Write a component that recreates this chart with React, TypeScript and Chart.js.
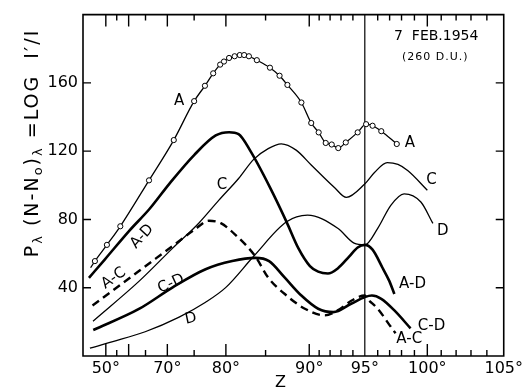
import React, { useEffect, useRef } from "react";
import { Chart, registerables } from "chart.js";

Chart.register(...registerables);

// Non-linear zenith-angle axis: Z (degrees) -> axis coordinate u
const AXIS_Z = [40, 45, 50, 55, 60, 65, 70, 75, 80, 85, 90, 91, 92, 93, 94, 95, 96, 97, 98, 99, 100, 101, 102, 103, 104, 105];
const AXIS_U = [0, 12, 23, 34, 46, 63, 85, 112, 144, 184, 228, 238, 249, 260, 272, 284, 297, 309, 321, 334, 347, 361, 376, 391, 407, 424];

const X_LABEL_Z = [50, 70, 80, 90, 95, 100, 105];
const X_MAJOR_Z = [50, 60, 70, 80, 90, 100];
const X_MINOR_Z = [55, 65, 75, 85, 91, 92, 93, 94, 96, 97, 98, 99, 101, 102, 103, 104];
const Y_TICKS = [40, 80, 120, 160];

// Curve A (with observed points)
const A_Z = [43.2, 45.0, 50.5, 56.5, 65.8, 71.2, 75.0, 76.7, 78.0, 79.1, 79.7, 80.4, 81.1, 81.75, 82.3, 82.9, 83.9, 85.5, 86.6, 87.5, 89.1, 90.2, 90.95, 91.6, 92.15, 92.75, 93.4, 94.4, 95.1, 95.6, 96.3, 97.6];
const A_VAL = [51.7, 55.6, 65.1, 76.0, 102.9, 126.5, 149.3, 158.3, 165.6, 170.7, 172.5, 174.6, 175.6, 176.3, 176.3, 175.6, 173.3, 168.9, 164.2, 158.8, 148.5, 136.5, 131.0, 124.8, 123.9, 121.8, 125.1, 131.0, 135.8, 134.9, 131.7, 124.2];

const AD_Z = [42.5, 49.5, 60.3, 65.9, 70.4, 75.0, 78.4, 80.4, 81.6, 83.1, 85.5, 87.4, 88.75, 90.07, 90.9, 91.8, 92.7, 93.7, 94.4, 95.0, 95.6, 96.4, 96.97, 97.4];
const AD_VAL = [45.8, 56.5, 73.6, 86.1, 101.0, 117.7, 129.2, 131.1, 130.0, 120.0, 98.8, 78.6, 63.2, 52.7, 49.4, 48.3, 51.3, 58.4, 63.6, 65.1, 62.3, 51.7, 44.0, 36.3];

const C_Z = [44.2, 63.2, 71.0, 75.8, 78.9, 81.6, 83.5, 85.3, 86.8, 88.5, 90.2, 92.4, 93.45, 94.97, 95.75, 96.8, 97.7, 98.5, 100.0];
const C_VAL = [20.4, 44.0, 63.2, 78.1, 91.3, 104.0, 115.2, 121.5, 124.3, 120.6, 111.9, 98.7, 92.9, 100.6, 107.5, 113.3, 112.2, 108.5, 97.1];

const D_Z = [42.9, 53.2, 64.9, 72.2, 76.8, 80.0, 83.5, 87.4, 89.8, 92.7, 94.1, 95.0, 96.0, 97.1, 98.2, 99.5, 100.4];
const D_VAL = [4.6, 8.4, 14.2, 22.8, 31.5, 40.2, 58.4, 78.6, 82.5, 74.8, 66.1, 65.1, 74.8, 88.3, 95.0, 90.2, 77.7];

const AC_Z = [44.0, 56.3, 65.2, 71.3, 75.0, 77.3, 79.2, 81.2, 83.7, 85.3, 87.2, 89.5, 91.5, 92.7, 93.9, 95.0, 95.2, 96.0, 97.1, 97.5];
const AC_VAL = [29.6, 41.4, 53.0, 65.2, 73.8, 79.2, 77.8, 71.0, 58.4, 45.9, 36.3, 27.7, 23.8, 26.7, 32.5, 35.4, 33.5, 27.7, 17.1, 13.3];

const CD_Z = [44.3, 63.2, 71.0, 76.8, 80.8, 83.7, 85.4, 87.2, 89.1, 90.9, 92.3, 93.85, 95.0, 95.55, 96.3, 97.4, 98.7];
const CD_VAL = [15.2, 27.7, 40.2, 50.8, 55.6, 57.5, 55.6, 45.9, 35.4, 27.7, 25.7, 30.6, 34.5, 35.4, 33.5, 26.7, 16.2];

const REF_Z = [95, 95];
const REF_VAL = [0, 200];

const CURVE_LABELS = [
  { t: "A", z: 72.2, v: 149.6, r: 0 },
  { t: "A", z: 98.65, v: 124.8, r: 0 },
  { t: "C", z: 79.4, v: 100, r: 0 },
  { t: "C", z: 100.3, v: 103.2, r: 0 },
  { t: "D", z: 101.1, v: 73.4, r: 0 },
  { t: "D", z: 74.4, v: 21.8, r: -12 },
  { t: "A-D", z: 64.0, v: 70.0, r: -48 },
  { t: "A-C", z: 53.6, v: 45.5, r: -35 },
  { t: "C-D", z: 70.7, v: 42.3, r: -25 },
  { t: "A-D", z: 98.85, v: 42.0, r: 0 },
  { t: "C-D", z: 100.3, v: 17.8, r: 0 },
  { t: "A-C", z: 98.6, v: 10.0, r: 0 },
];

const FONT = "'DejaVu Sans', sans-serif";

function zToU(z: number): number {
  for (let i = 0; i < AXIS_Z.length - 1; i++) {
    if (z <= AXIS_Z[i + 1]) {
      const t = (z - AXIS_Z[i]) / (AXIS_Z[i + 1] - AXIS_Z[i]);
      return AXIS_U[i] + t * (AXIS_U[i + 1] - AXIS_U[i]);
    }
  }
  return AXIS_U[AXIS_U.length - 1];
}

function pts(zs: number[], vs: number[]) {
  return zs.map((z, i) => ({ x: zToU(z), y: vs[i] }));
}

const decor = {
  id: "decor",
  afterDraw(chart: any) {
    const ctx: CanvasRenderingContext2D = chart.ctx;
    const xs = chart.scales.x;
    const ys = chart.scales.y;
    const L = xs.getPixelForValue(AXIS_U[0]);
    const R = xs.getPixelForValue(AXIS_U[AXIS_U.length - 1]);
    const B = ys.getPixelForValue(0);
    const T = ys.getPixelForValue(200);
    ctx.save();
    ctx.fillStyle = "#000";
    ctx.strokeStyle = "#000";
    ctx.setLineDash([]);
    // frame
    ctx.lineWidth = 1.6;
    ctx.beginPath();
    ctx.moveTo(L, T);
    ctx.lineTo(R, T);
    ctx.lineTo(R, B);
    ctx.lineTo(L, B);
    ctx.closePath();
    ctx.stroke();
    // inward ticks on all four sides
    ctx.lineWidth = 1.4;
    ctx.beginPath();
    const tickX = (z: number, len: number) => {
      const px = xs.getPixelForValue(zToU(z));
      ctx.moveTo(px, B);
      ctx.lineTo(px, B - len);
      ctx.moveTo(px, T);
      ctx.lineTo(px, T + len);
    };
    X_MAJOR_Z.forEach((z) => tickX(z, 12));
    X_MINOR_Z.forEach((z) => tickX(z, 6));
    Y_TICKS.forEach((v) => {
      const py = ys.getPixelForValue(v);
      ctx.moveTo(L, py);
      ctx.lineTo(L + 8, py);
      ctx.moveTo(R, py);
      ctx.lineTo(R - 8, py);
    });
    ctx.stroke();
    // curve labels
    ctx.textAlign = "center";
    ctx.textBaseline = "middle";
    ctx.font = `15px ${FONT}`;
    for (const l of CURVE_LABELS) {
      const px = xs.getPixelForValue(zToU(l.z));
      const py = ys.getPixelForValue(l.v);
      ctx.save();
      ctx.translate(px, py);
      ctx.rotate((l.r * Math.PI) / 180);
      ctx.fillText(l.t, 0, 0);
      ctx.restore();
    }
    // date box
    ctx.font = `14px ${FONT}`;
    ctx.fillText("7  FEB.1954", xs.getPixelForValue(zToU(100.64)), ys.getPixelForValue(187.3));
    (ctx as any).letterSpacing = "1px";
    ctx.font = `11px ${FONT}`;
    ctx.fillText("(260 D.U.)", xs.getPixelForValue(zToU(100.57)), ys.getPixelForValue(175.1));
    (ctx as any).letterSpacing = "0px";
    // x title
    ctx.font = `16px ${FONT}`;
    ctx.fillText("Z", xs.getPixelForValue(zToU(86.7)), 383);
    // y title with subscripts
    const pieces: [string, boolean][] = [
      ["P", false], ["λ", true], [" (N-N", false], ["o", true], [")", false], ["λ", true], [" =LOG  I′/I", false],
    ];
    const big = `19px ${FONT}`;
    const small = `13px ${FONT}`;
    (ctx as any).letterSpacing = "2px";
    let total = 0;
    for (const [s, sub] of pieces) {
      ctx.font = sub ? small : big;
      total += ctx.measureText(s).width;
    }
    ctx.translate(33, 143);
    ctx.rotate(-Math.PI / 2);
    ctx.textAlign = "left";
    let x = -total / 2;
    for (const [s, sub] of pieces) {
      ctx.font = sub ? small : big;
      ctx.fillText(s, x, sub ? 6 : 0);
      x += ctx.measureText(s).width;
    }
    (ctx as any).letterSpacing = "0px";
    ctx.restore();
  },
};

export default function App() {
  const ref = useRef<HTMLCanvasElement | null>(null);
  useEffect(() => {
    if (!ref.current) return;
    const thin = 1.3;
    const thick = 2.6;
    const base = {
      fill: false,
      borderColor: "#000",
      cubicInterpolationMode: "monotone" as const,
      pointRadius: 0,
    };
    const chart = new Chart(ref.current, {
      type: "line",
      data: {
        datasets: [
          {
            ...base,
            label: "A",
            data: pts(A_Z, A_VAL),
            borderWidth: thin,
            pointRadius: (c: any) => (c.dataIndex === 0 ? 0 : 2.6),
            pointStyle: "circle",
            pointBackgroundColor: "#fff",
            pointBorderColor: "#000",
            pointBorderWidth: 1,
          },
          { ...base, label: "A-D", data: pts(AD_Z, AD_VAL), borderWidth: thick },
          { ...base, label: "C", data: pts(C_Z, C_VAL), borderWidth: thin },
          { ...base, label: "D", data: pts(D_Z, D_VAL), borderWidth: thin },
          { ...base, label: "A-C", data: pts(AC_Z, AC_VAL), borderWidth: 2.4, borderDash: [8, 5] },
          { ...base, label: "C-D", data: pts(CD_Z, CD_VAL), borderWidth: thick },
          { ...base, label: "ref", data: pts(REF_Z, REF_VAL), borderWidth: 1.2, cubicInterpolationMode: "default" as const, tension: 0 },
        ] as any,
      },
      options: {
        animation: false,
        responsive: false,
        layout: { padding: { left: 0, right: 19, top: 10, bottom: 0 } },
        plugins: { legend: { display: false }, tooltip: { enabled: false } },
        scales: {
          x: {
            type: "linear",
            min: 0,
            max: AXIS_U[AXIS_U.length - 1],
            grid: { display: false, drawTicks: false },
            border: { display: false },
            afterBuildTicks: (s: any) => {
              s.ticks = X_LABEL_Z.map((z) => ({ value: zToU(z) }));
            },
            afterFit: (s: any) => {
              s.height = 36;
            },
            ticks: {
              autoSkip: false,
              maxRotation: 0,
              padding: 3,
              color: "#000",
              font: { family: FONT, size: 16 },
              callback: (_v: any, i: number) => `${X_LABEL_Z[i]}°`,
            },
          },
          y: {
            type: "linear",
            min: 0,
            max: 200,
            grid: { display: false, drawTicks: false },
            border: { display: false },
            afterBuildTicks: (s: any) => {
              s.ticks = Y_TICKS.map((v) => ({ value: v }));
            },
            afterFit: (s: any) => {
              s.width = 83;
            },
            ticks: {
              padding: 5,
              color: "#000",
              font: { family: FONT, size: 16 },
            },
          },
        },
      },
      plugins: [decor],
    } as any);
    return () => chart.destroy();
  }, []);
  return (
    <div style={{ position: "fixed", left: 0, top: 0, width: 526, height: 392, background: "#fff" }}>
      <canvas ref={ref} width={526} height={392} />
    </div>
  );
}
